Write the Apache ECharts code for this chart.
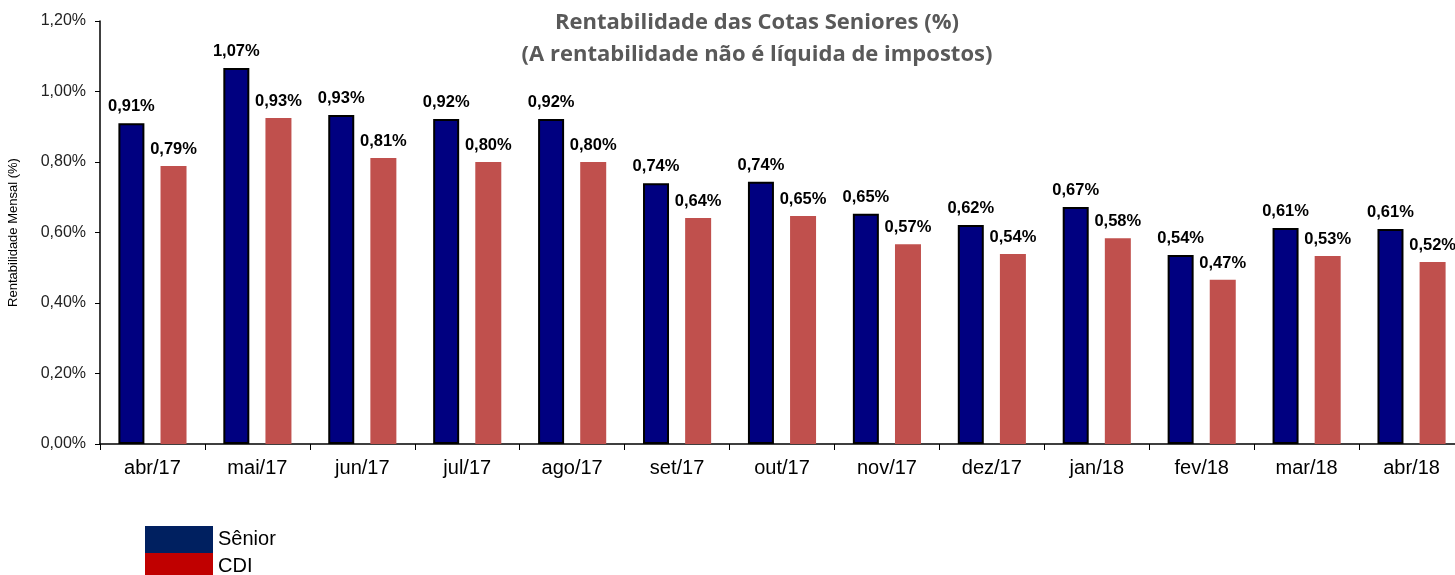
<!DOCTYPE html>
<html>
<head>
<meta charset="utf-8">
<script src="https://cdn.jsdelivr.net/npm/echarts@6/dist/echarts.min.js"></script>
<style>
  html, body { margin: 0; padding: 0; background: #fff; }
  #chart { width: 1455px; height: 575px; }
</style>
</head>
<body>
<div id="chart"></div>
<script>
// meses
var categories = ['abr/17', 'mai/17', 'jun/17', 'jul/17', 'ago/17', 'set/17', 'out/17',
    'nov/17', 'dez/17', 'jan/18', 'fev/18', 'mar/18', 'abr/18'];

// rentabilidade mensal (%)
var senior = [0.91, 1.067, 0.933, 0.922, 0.922, 0.74, 0.744, 0.653, 0.621, 0.672, 0.536, 0.613, 0.61];
var cdi = [0.789, 0.925, 0.811, 0.80, 0.80, 0.641, 0.647, 0.567, 0.539, 0.584, 0.466, 0.533, 0.516];

// eixo y
var yTicks = [0, 0.2, 0.4, 0.6, 0.8, 1.0, 1.2];

var fmt = function (v) {
    return (Math.round(v * 100) / 100).toFixed(2).replace('.', ',') + '%';
};

var myChart = echarts.init(document.getElementById('chart'));

var labelStyle = {
    show: true,
    position: 'top',
    distance: 8,
    fontFamily: 'Liberation Sans, Arial',
    fontWeight: 'bold',
    fontSize: 16.5,
    color: '#000',
    formatter: function (p) { return fmt(p.value); }
};

var option = {
    animation: false,
    title: {
        text: 'Rentabilidade das Cotas Seniores (%)\n(A rentabilidade não é líquida de impostos)',
        left: 752,
        textAlign: 'center',
        top: 2,
        textStyle: {
            fontFamily: 'Open Sans',
            fontWeight: 'bold',
            fontSize: 22,
            lineHeight: 32,
            color: '#595959'
        }
    },
    legend: {
        orient: 'vertical',
        left: 145,
        top: 526,
        height: 70,
        padding: 0,
        itemGap: 0,
        itemWidth: 68,
        itemHeight: 27,
        icon: 'rect',
        textStyle: {
            fontFamily: 'Liberation Sans, Arial',
            fontSize: 20,
            lineHeight: 27,
            color: '#000'
        },
        data: [
            { name: 'Sênior', itemStyle: { color: '#002060', borderWidth: 0 } },
            { name: 'CDI', itemStyle: { color: '#C00000', borderWidth: 0 } }
        ]
    },
    grid: {
        left: 100,
        top: 21,
        width: 1364,
        bottom: 131,
        outerBoundsMode: 'none'
    },
    xAxis: {
        type: 'category',
        data: categories,
        axisLine: { lineStyle: { color: '#000', width: 1.5 } },
        axisTick: { show: true, length: 6, alignWithLabel: false, lineStyle: { color: '#000' } },
        axisLabel: {
            margin: 14,
            fontFamily: 'Liberation Sans, Arial',
            fontSize: 20,
            color: '#000'
        }
    },
    yAxis: {
        type: 'value',
        min: yTicks[0],
        max: yTicks[yTicks.length - 1],
        interval: 0.2,
        name: 'Rentabilidade Mensal (%)',
        nameLocation: 'middle',
        nameGap: 80,
        nameTextStyle: {
            fontFamily: 'Liberation Sans, Arial',
            fontSize: 13,
            color: '#000'
        },
        splitLine: { show: false },
        axisLine: { show: true, lineStyle: { color: '#000', width: 1.5 } },
        axisTick: { show: true, length: 5, lineStyle: { color: '#000' } },
        axisLabel: {
            margin: 14,
            fontFamily: 'Liberation Sans, Arial',
            fontSize: 16,
            color: '#222',
            formatter: function (v) { return v.toFixed(2).replace('.', ',') + '%'; }
        }
    },
    series: [
        {
            name: 'Sênior',
            type: 'bar',
            data: senior,
            barWidth: 26,
            barGap: '62%',
            itemStyle: { color: '#000080', borderColor: '#000', borderWidth: 2 },
            label: labelStyle
        },
        {
            name: 'CDI',
            type: 'bar',
            data: cdi,
            barWidth: 26,
            itemStyle: { color: '#C0504D' },
            label: labelStyle
        }
    ]
};

myChart.setOption(option);
</script>
</body>
</html>
